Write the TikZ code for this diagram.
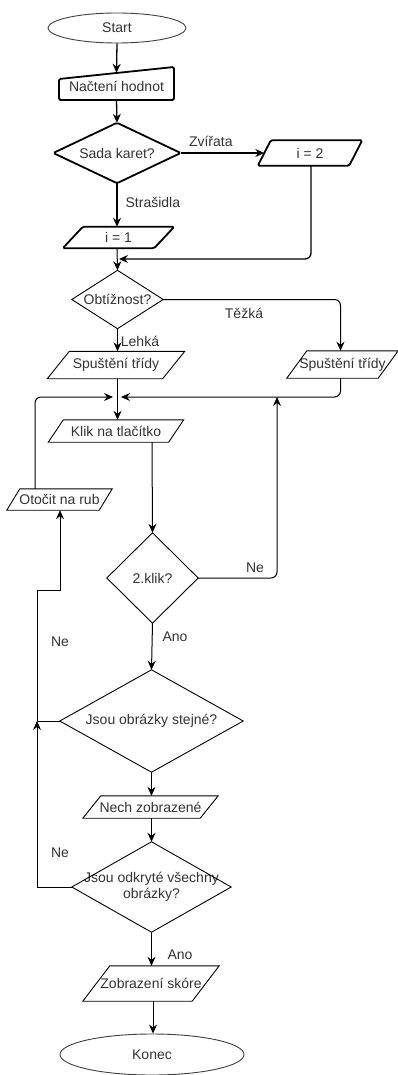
\documentclass[tikz,border=0pt]{standalone}
\usepackage{fontspec}
\setmainfont{Liberation Sans}
\usetikzlibrary{shapes.geometric,arrows.meta,calc}
\definecolor{txt}{RGB}{51,51,51}
\tikzset{
  txtnode/.style={inner sep=0pt, text=txt, align=center, font=\fontsize{14}{15.5}\selectfont},
  lbl/.style={inner sep=0pt, text=txt, font=\fontsize{14}{15.5}\selectfont},
  thinshape/.style={draw=black, line width=0.9pt},
  thickshape/.style={draw=black, line width=1.8pt, rounded corners=1.5pt},
  conn/.style={draw=black, line width=1pt, -{Stealth[length=9pt,width=8pt,inset=3pt]}},
  connthick/.style={conn, line width=1.3pt},
  seg/.style={draw=black, line width=1pt},
}
% style, name, x, y, width, height, offset, text
\newcommand{\myparal}[8]{%
  \node[txtnode, minimum width=#5pt, minimum height=#6pt] (#2) at (#3,#4) {#8};
  \draw[#1] ([xshift=#7pt]#2.north west) -- (#2.north east) -- ([xshift=-#7pt]#2.south east) -- (#2.south west) -- cycle;}
% style, name, x, y, width, height, text
\newcommand{\mydiam}[7]{%
  \node[txtnode, minimum width=#5pt, minimum height=#6pt] (#2) at (#3,#4) {#7};
  \draw[#1] (#2.north) -- (#2.east) -- (#2.south) -- (#2.west) -- cycle;}
\begin{document}
\begin{tikzpicture}[x=1pt,y=-1pt]
\useasboundingbox[fill=white] (0,0) rectangle (398,1075);

% --- nodes ---
\node[ellipse, thinshape, draw=black!75, minimum width=138pt, minimum height=30pt, txtnode] (start) at (117,28) {Start};

\node[txtnode, minimum width=115pt, minimum height=27pt] (load) at (116.5,86.5) {Načtení hodnot};
\draw[thickshape] (59,79) -- (174,67) -- (174,100) -- (59,100) -- cycle;

\mydiam{thickshape}{sada}{117}{153}{127}{60}{Sada karet?}
\myparal{thickshape}{i2}{310}{153}{104}{25}{13}{i = 2}
\myparal{thickshape}{i1}{118.5}{237.5}{111}{21}{20}{i = 1}

\mydiam{thinshape}{obt}{117.5}{299.5}{91}{58}{Obtížnost?}
\myparal{thinshape}{spL}{116}{365}{137}{27}{22}{Spuštění třídy}
\myparal{thinshape}{spR}{342.5}{364.5}{111}{27}{20}{Spuštění třídy}
\myparal{thinshape}{klik}{116}{431}{135}{22}{15}{Klik na tlačítko}
\myparal{thinshape}{oto}{59.5}{499.5}{105}{21}{13}{Otočit na rub}
\mydiam{thinshape}{klik2}{152.5}{578}{91}{90}{2.klik?}
\mydiam{thinshape}{stejne}{151.5}{721}{183}{102}{Jsou obrázky stejné?}
\myparal{thinshape}{nech}{150.5}{807}{135}{22}{18}{Nech zobrazené}
\mydiam{thinshape}{odkr}{151.5}{887}{159}{90}{Jsou odkryté všechny\\obrázky?}
\myparal{thinshape}{skore}{151}{983.5}{136}{35}{27}{Zobrazení skóre}
\node[ellipse, thinshape, draw=black!75, minimum width=184pt, minimum height=41pt, txtnode] (konec) at (152,1054.5) {Konec};

% --- junction coordinates ---
\coordinate (j1) at (119,259);
\coordinate (mL) at (113,397);
\coordinate (mR) at (121,397);
\coordinate (mU) at (277,397);
\coordinate (jL) at (37,721);

% --- connectors ---
\draw[connthick] (start.south) -- (load.north);
\draw[connthick] (load.south) -- (sada.north);
\draw[connthick] (sada.east) -- ([xshift=6.5pt]i2.west)
  node[lbl, pos=0.36, above=6pt] (lz) {Zvířata};
\draw[connthick] (sada.south) -- (sada.south |- i1.north)
  node[lbl, pos=0.45, right=8pt] (ls) {Strašidla};
\draw[connthick, rounded corners=6pt] ([xshift=1pt]i2.south) |- (j1);
\draw[conn] (i1.south -| sada.south) -- (obt.north);

\draw[conn, rounded corners=6pt] (obt.east) -| ([xshift=-2pt]spR.north);
\node[lbl] (lt) at (244,313) {Těžká};
\draw[conn] (obt.south) -- (obt.south |- spL.north);
\node[lbl] (ll) at (140,341) {Lehká};

\draw[conn] (spL.south -| obt.south) -- (klik.north -| obt.south);
\draw[conn, rounded corners=6pt] ([xshift=-2pt]spR.south) |- (mR);
\draw[conn, rounded corners=6pt] (oto.north -| 35,0) |- (mL);

\draw[conn] ([xshift=36pt]klik.south) -- (klik2.north);
\draw[conn, rounded corners=6pt] (klik2.east) -| (mU);
\node[lbl] (ln1) at (255,568) {Ne};

\draw[conn] (klik2.south) -- (stejne.north);
\node[lbl] (la1) at (175,637) {Ano};

\draw[conn] (stejne.west) -- (jL) -- (37,590) -- (60,590) -- (oto.south -| 60,0);
\node[lbl] (ln2) at (60,642) {Ne};

\draw[conn] (stejne.south) -- (stejne.south |- nech.north);
\draw[conn] (nech.south -| stejne.south) -- (odkr.north);

\draw[conn] (odkr.west) -- (37,887) -- (jL);
\node[lbl] (ln3) at (60,853) {Ne};

\draw[conn] (odkr.south) -- (odkr.south |- skore.north);
\node[lbl] (la2) at (180,955) {Ano};

\draw[conn] ([xshift=2pt]skore.south) -- ([xshift=2pt]skore.south |- konec.north);
\end{tikzpicture}
\end{document}
